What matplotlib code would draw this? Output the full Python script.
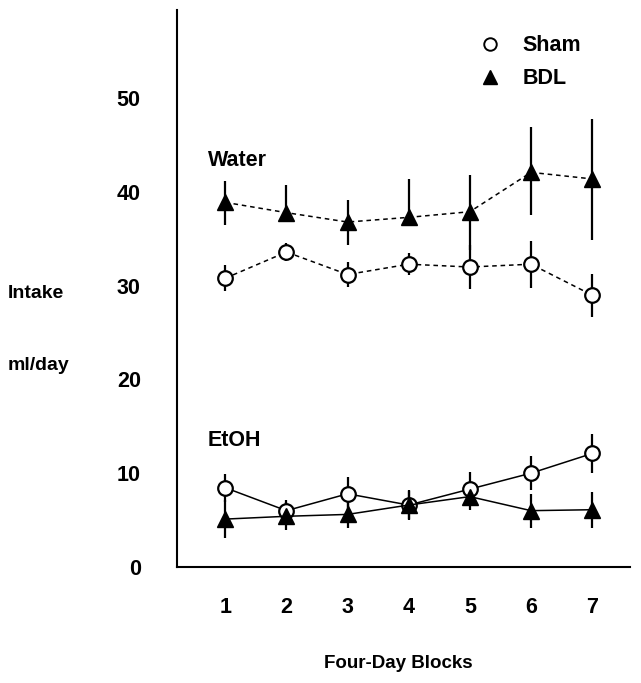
import matplotlib
matplotlib.use("Agg")
import matplotlib.pyplot as plt
from matplotlib.lines import Line2D

plt.rcParams['font.family'] = ['Liberation Sans', 'DejaVu Sans']
plt.rcParams['font.weight'] = 'bold'

blocks = [1, 2, 3, 4, 5, 6, 7]
tick_labels = ['1', '2', '3', '4', '5', '6', '7']
y_ticks = [0, 10, 20, 30, 40, 50]

water_sham = [30.8, 33.6, 31.2, 32.3, 32.0, 32.3, 29.0]
water_sham_err = [1.4, 1.0, 1.3, 1.2, 2.3, 2.5, 2.3]
water_bdl = [38.9, 37.8, 36.8, 37.3, 37.9, 42.1, 41.4]
water_bdl_err_lo = [2.4, 0.0, 2.5, 0.0, 4.1, 4.6, 6.5]
water_bdl_err_hi = [2.3, 3.0, 2.4, 4.1, 3.9, 4.8, 6.4]

etoh_sham = [8.45, 6.0, 7.8, 6.6, 8.3, 10.0, 12.1]
etoh_sham_err = [1.5, 1.1, 1.8, 1.6, 1.8, 1.8, 2.1]
etoh_bdl = [5.1, 5.4, 5.6, 6.6, 7.5, 6.0, 6.1]
etoh_bdl_err = [2.0, 1.5, 1.5, 1.5, 1.4, 1.8, 1.9]

fig = plt.figure(figsize=(6.41, 6.83), dpi=100)
ax = fig.add_axes([0.276, 0.170, 0.707, 0.815])

ms = 10.5
common = dict(ecolor='black', elinewidth=1.6, capsize=0, color='black')

ax.errorbar(blocks, water_sham, yerr=water_sham_err, fmt='o', ls=(0, (3, 2.5)), lw=1.1,
            mfc='white', mec='black', mew=1.6, ms=ms, zorder=3, **common)
ax.errorbar(blocks, water_bdl, yerr=[water_bdl_err_lo, water_bdl_err_hi], fmt='^', ls=(0, (3, 2.5)), lw=1.1,
            mfc='black', mec='black', ms=ms + 1, zorder=3, **common)
ax.errorbar(blocks, etoh_sham, yerr=etoh_sham_err, fmt='o', ls='-', lw=1.1,
            mfc='white', mec='black', mew=1.6, ms=ms, zorder=3, **common)
ax.errorbar(blocks, etoh_bdl, yerr=etoh_bdl_err, fmt='^', ls='-', lw=1.1,
            mfc='black', mec='black', ms=ms + 1, zorder=3, **common)

ax.set_xlim(0.21, 7.62)
ax.set_ylim(0, 59.4)
ax.set_xticks(blocks)
ax.set_xticklabels(tick_labels)
ax.set_yticks(y_ticks)
ax.tick_params(length=0, labelsize=15.5)
ax.tick_params(axis='y', pad=26)
ax.tick_params(axis='x', pad=22)
for lab in ax.get_xticklabels() + ax.get_yticklabels():
    lab.set_fontweight('bold')
for s in ['top', 'right']:
    ax.spines[s].set_visible(False)
for s in ['left', 'bottom']:
    ax.spines[s].set_linewidth(1.5)

fig.text(208/641, 1-160/683, 'Water', fontsize=15.5, fontweight='bold', va='center', ha='left')
fig.text(208/641, 1-440/683, 'EtOH', fontsize=15.5, fontweight='bold', va='center', ha='left')
fig.text(8/641, 1-294/683, 'Intake', fontsize=14, fontweight='bold', va='center', ha='left')
fig.text(8/641, 1-365/683, 'ml/day', fontsize=14, fontweight='bold', va='center', ha='left')
fig.text(398/641, 1-663/683, 'Four-Day Blocks', fontsize=13.5, fontweight='bold', va='center', ha='center')

handles = [Line2D([], [], marker='o', ls='none', mfc='white', mec='black', mew=1.4, ms=9, color='black'),
           Line2D([], [], marker='^', ls='none', mfc='black', mec='black', ms=10, color='black')]
leg = fig.legend(handles, ['Sham', 'BDL'], loc='upper left', bbox_to_anchor=(460/641, 1-18/683),
                 frameon=False, prop={'weight': 'bold', 'size': 15.5}, handletextpad=0.9,
                 labelspacing=0.55, handlelength=1.2, borderpad=0.3)

fig.savefig('out.png', dpi=100)
